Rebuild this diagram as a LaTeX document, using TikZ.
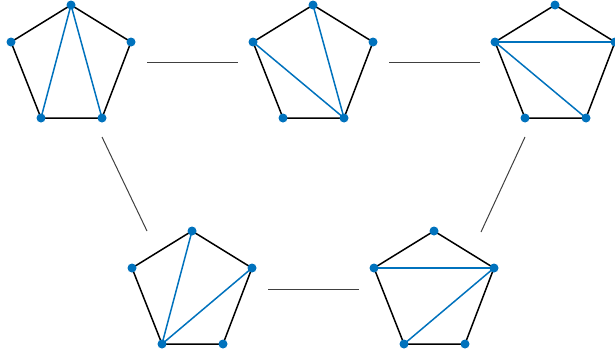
\documentclass[tikz,border=0pt]{standalone}
\definecolor{diagblue}{RGB}{0,114,189}
\tikzset{
  edge/.style={black, line width=1.5pt},
  diag/.style={diagblue, line width=1.5pt},
  flip/.style={black!75, line width=1pt},
  vert/.style={fill=diagblue}
}
\begin{document}
\begin{tikzpicture}[x=1pt, y=-1pt]
\useasboundingbox (0,0) rectangle (615,356);

% corners of the five pentagons
\foreach \n/\dx/\dy in {1/0/0, 2/242/0, 3/484/0, 4/121/226, 5/363/226} {
  \coordinate (p\n t) at (\dx+71,\dy+5);
  \coordinate (p\n l) at (\dx+11,\dy+42);
  \coordinate (p\n r) at (\dx+131,\dy+42);
  \coordinate (p\n bl) at (\dx+41,\dy+118);
  \coordinate (p\n br) at (\dx+102,\dy+118);
  \draw[edge, line join=round] (p\n t) -- (p\n r) -- (p\n br) -- (p\n bl) -- (p\n l) -- cycle;
}

% diagonals
\draw[diag] (p1t) -- (p1bl);
\draw[diag] (p1t) -- (p1br);
\draw[diag] (p2t) -- (p2br);
\draw[diag] (p2l) -- (p2br);
\draw[diag] (p3l) -- (p3r);
\draw[diag] (p3l) -- (p3br);
\draw[diag] (p4bl) -- (p4t);
\draw[diag] (p4bl) -- (p4r);
\draw[diag] (p5l) -- (p5r);
\draw[diag] (p5bl) -- (p5r);

\foreach \n in {1,...,5}
  \foreach \v in {t,l,r,bl,br}
    \fill[vert] (p\n\v) circle (4.5);

% flips between triangulations
\coordinate (f12a) at (147,62);
\coordinate (f12b) at (238,62);
\coordinate (f23a) at (389,62);
\coordinate (f23b) at (480,62);
\coordinate (f14a) at (102,137);
\coordinate (f14b) at (147,231);
\coordinate (f35a) at (525,137);
\coordinate (f35b) at (481,232);
\coordinate (f45a) at (268,289);
\coordinate (f45b) at (359,289);
\draw[flip] (f12a) -- (f12b);
\draw[flip] (f23a) -- (f23b);
\draw[flip] (f14a) -- (f14b);
\draw[flip] (f35a) -- (f35b);
\draw[flip] (f45a) -- (f45b);
\end{tikzpicture}
\end{document}
